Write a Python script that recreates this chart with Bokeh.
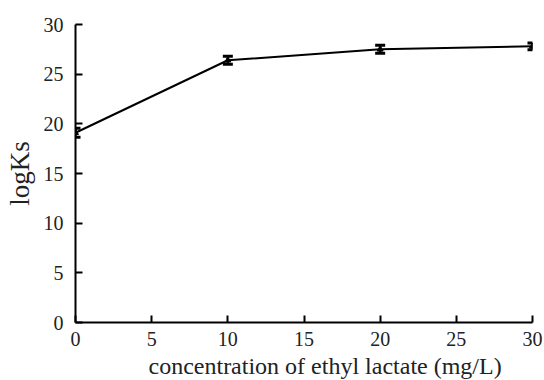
from bokeh.plotting import figure
from bokeh.models import Range1d, Whisker, ColumnDataSource, FixedTicker, Title
from bokeh.embed import file_html
from bokeh.resources import INLINE

conc = [0, 10, 20, 30]
logks = [19.1, 26.4, 27.5, 27.8]
err = [0.45, 0.4, 0.4, 0.35]
x_ticks = [0, 5, 10, 15, 20, 25, 30]
y_ticks = [0, 5, 10, 15, 20, 25, 30]

FONT = "Liberation Serif"

src = ColumnDataSource(dict(
    x=conc, y=logks,
    lo=[v - e for v, e in zip(logks, err)],
    hi=[v + e for v, e in zip(logks, err)],
))

p = figure(width=544, height=380, output_backend="svg", toolbar_location=None,
           x_range=Range1d(0, 30), y_range=Range1d(0, 30),
           min_border_left=75, min_border_right=12, min_border_top=24, min_border_bottom=57)
p.outline_line_color = None
p.grid.grid_line_color = None

p.xaxis.ticker = FixedTicker(ticks=x_ticks)
p.yaxis.ticker = FixedTicker(ticks=y_ticks)
p.axis.axis_line_color = "black"
p.axis.axis_line_width = 2
p.axis.major_tick_line_color = "black"
p.axis.major_tick_line_width = 2
p.axis.major_tick_in = 7
p.axis.major_tick_out = 0
p.axis.minor_tick_line_color = None
p.axis.major_label_text_font = FONT
p.axis.major_label_text_font_size = "20px"
p.axis.major_label_text_color = "#222222"
p.xaxis.major_label_standoff = 9
p.yaxis.major_label_standoff = 12

p.yaxis.axis_label = "logKs"
p.yaxis.axis_label_text_font = FONT
p.yaxis.axis_label_text_font_size = "27px"
p.yaxis.axis_label_text_font_style = "normal"
p.yaxis.axis_label_text_color = "#222222"
p.yaxis.axis_label_standoff = 6

title = Title(text="concentration of ethyl lactate (mg/L)", align="left", offset=73,
              text_font=FONT, text_font_size="24px", text_font_style="normal",
              text_color="#222222", standoff=4)
p.add_layout(title, "below")

line = p.line("x", "y", source=src, line_color="black", line_width=2)
w = Whisker(base="x", lower="lo", upper="hi", source=src, dimension="height",
            line_color="black", line_width=2.5, level="overlay")
w.upper_head.size = 10
w.lower_head.size = 10
w.upper_head.line_width = 3
w.lower_head.line_width = 3
p.add_layout(w)
sc = p.scatter("x", "y", source=src, marker="triangle", size=6, fill_color="black", line_color="black")

open("out.html", "w").write(file_html(p, INLINE))
